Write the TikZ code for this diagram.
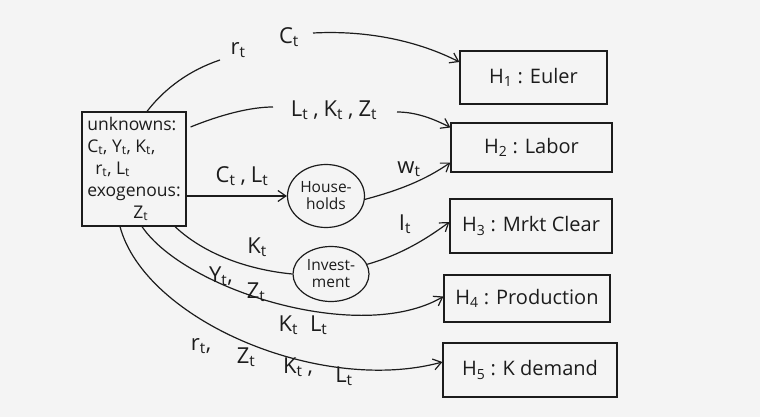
\documentclass[tikz,border=0pt]{standalone}
\usepackage{fontspec}
\setmainfont{Open Sans}
\usetikzlibrary{arrows.meta,shapes.geometric}
\definecolor{paper}{RGB}{244,244,244}
\definecolor{ink}{RGB}{28,28,28}
\newcommand{\Vt}[1]{#1\textsubscript{t}}
\newcommand{\gp}{\hspace{5pt}}
\begin{document}
\begin{tikzpicture}[x=1pt,y=-1pt,
  hbox/.style={draw=ink, line width=1.2pt, inner sep=0pt, text=ink, font=\fontsize{20}{22}\selectfont},
  ell/.style={ellipse, draw=ink, line width=1.2pt, inner sep=0pt, text=ink, align=center, font=\fontsize{15.5}{17}\selectfont},
  lab/.style={inner sep=0pt, text=ink, font=\fontsize{22}{24}\selectfont},
  conn/.style={draw=ink, line width=1.2pt},
  arr/.style={conn, -{Straight Barb[length=8pt,width=11pt,line width=1.2pt]}}]
\fill[paper] (0,0) rectangle (760,417);
\useasboundingbox (0,0) rectangle (760,417);

% left box
\node[hbox, minimum width=104, minimum height=114, align=left, inner sep=1pt,
      font=\fontsize{17.5}{22}\selectfont] (L) at (134,169)
  {unknowns:\\ \Vt{C}, \Vt{Y}, \Vt{K},\\ \hspace{8pt}\Vt{r}, \Vt{L}\\ exogenous:\\ \hspace{46pt}\Vt{Z}};

% right boxes
\node[hbox, minimum width=147, minimum height=53] (H1) at (533.5,77.5) {H\textsubscript{1} : Euler};
\node[hbox, minimum width=161, minimum height=49] (H2) at (531.5,147.5) {H\textsubscript{2} : Labor};
\node[hbox, minimum width=162, minimum height=54] (H3) at (531,226) {H\textsubscript{3} : Mrkt Clear};
\node[hbox, minimum width=166, minimum height=47] (H4) at (527,298.5) {H\textsubscript{4} : Production};
\node[hbox, minimum width=174, minimum height=54] (H5) at (530,370) {H\textsubscript{5} : K demand};

% ellipses
\node[ell, minimum width=77, minimum height=63] (HH) at (326,196) {House-\\holds};
\node[ell, minimum width=76, minimum height=55] (Inv) at (331,274) {Invest-\\ment};

% free ends around label gaps
\coordinate (c1a) at (220,60);
\coordinate (c1b) at (313,33);
\coordinate (c2a) at (273,107);
\coordinate (c2b) at (397,112);

% connectors
\draw[conn] ([xshift=13pt]L.north) .. controls (165,88) and (190,70) .. (c1a);
\draw[arr] (c1b) .. controls (370,30) and (420,42) .. ([yshift=15.5pt]H1.west);
\draw[conn] ([xshift=4pt]L.east |- 0,127) .. controls (220,115) and (250,107) .. (c2a);
\draw[arr] (c2b) .. controls (415,112) and (432,118) .. ([yshift=20pt]H2.west);
\draw[arr] ([yshift=-27pt]L.east) -- (HH.west);
\draw[arr] (HH.-5) .. controls (400,190) and (425,180) .. ([yshift=-15pt]H2.west);
\draw[conn] ([xshift=41pt]L.south) .. controls (205,255) and (250,270) .. (Inv.west);
\draw[arr] (Inv.15) .. controls (400,255) and (425,240) .. ([yshift=4pt]H3.west);
\draw[arr] ([xshift=8pt]L.south) .. controls (185,290) and (360,345) .. ([yshift=2pt]H4.west);
\draw[arr] ([xshift=-14pt]L.south) .. controls (145,320) and (320,395) .. ([yshift=8pt]H5.west);

% labels
\node[lab] (lr1) at (238,50) {\Vt{r}};
\node[lab] (lc1) at (289,37) {\Vt{C}};
\node[lab] (l2) at (334,110) {\Vt{L}\gp,\gp\Vt{K}\gp,\gp\Vt{Z}};
\node[lab] (l3) at (242,176) {\Vt{C}\gp,\gp\Vt{L}};
\node[lab] (l4) at (409,169) {\Vt{w}};
\node[lab] (l5) at (257,247) {\Vt{K}};
\node[lab] (l6) at (405,224) {\Vt{I}};
\node[lab] (l7a) at (221,276) {\Vt{Y},};
\node[lab] (l7c) at (256,292) {\Vt{Z}};
\node[lab] (l7b) at (303,325) {\Vt{K}\hspace{12pt}\Vt{L}};
\node[lab] (l8a) at (201,346) {\Vt{r},};
\node[lab] (l8c) at (246,357) {\Vt{Z}};
\node[lab] (l8b) at (298,367) {\Vt{K}\gp,};
\node[lab] (l8d) at (344,376) {\Vt{L}};
\end{tikzpicture}
\end{document}
